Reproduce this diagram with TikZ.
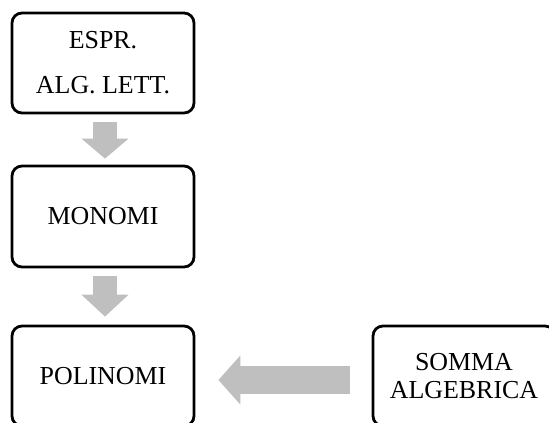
\documentclass[tikz,border=0pt]{standalone}
\usepackage{fontspec}
\setmainfont{Liberation Serif}
\usetikzlibrary{arrows.meta}
\definecolor{arrowgray}{HTML}{BFBFBF}
\begin{document}
\begin{tikzpicture}[x=1bp,y=-1bp,
  box/.style={draw=black,line width=2.8bp,rounded corners=10bp,fill=white,
    minimum width=182bp,minimum height=100bp,inner sep=0pt,align=center,
    font=\fontsize{26}{45}\selectfont},
  bigarrow/.style={draw=arrowgray,line width=#1}
]
\useasboundingbox (0,0) rectangle (549,422);
\begin{scope}
\clip (0,0) rectangle (549,422);
\node[box] (espr) at (103,63) {ESPR.\\ALG. LETT.};
\node[box,minimum height=101bp] (mono) at (103,216.5) {MONOMI};
\node[box] (poli) at (103,376) {POLINOMI};
\node[box,font=\fontsize{26}{29}\selectfont] (somma) at (464,376) {SOMMA\\ALGEBRICA};
\draw[bigarrow=24bp,-{Triangle[width=46bp,length=20bp]}]
  ([xshift=2bp,yshift=-8bp]espr.south) -- ([xshift=2bp,yshift=6bp]mono.north);
\draw[bigarrow=24bp,-{Triangle[width=46bp,length=22bp]}]
  ([xshift=2bp,yshift=-8bp]mono.south) -- ([xshift=2bp,yshift=8bp]poli.north);
\draw[bigarrow=28bp,-{Triangle[width=48bp,length=22bp]}]
  ([xshift=-22bp,yshift=-4bp]somma.west) -- ([xshift=23bp,yshift=-4bp]poli.east);
\end{scope}
\end{tikzpicture}
\end{document}
